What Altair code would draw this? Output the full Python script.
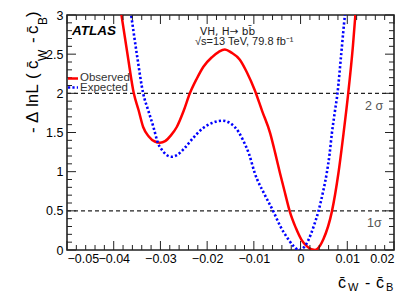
import altair as alt
import pandas as pd

# Observed curve
obs_x = [-0.0386, -0.0370, -0.0357, -0.0347, -0.0337, -0.0325, -0.0312, -0.0301, -0.0290,
         -0.0278, -0.0265, -0.0250, -0.0237, -0.0222, -0.0208, -0.0190, -0.0175, -0.0162,
         -0.0148, -0.0130, -0.0115, -0.0098, -0.0082, -0.0065, -0.0054, -0.0044, -0.0033,
         -0.0023, -0.0010, 0.0002, 0.0015, 0.0031, 0.0049, 0.0067, 0.0081, 0.0092, 0.0102,
         0.0112, 0.0118]
obs_y = [3.10, 2.48, 2.00, 1.79, 1.57, 1.45, 1.385, 1.37, 1.39,
         1.46, 1.57, 1.78, 2.00, 2.19, 2.34, 2.46, 2.53, 2.56,
         2.52, 2.43, 2.27, 2.04, 1.77, 1.49, 1.23, 0.98, 0.72,
         0.49, 0.28, 0.13, 0.04, 0.00, 0.14, 0.49, 0.98, 1.49, 2.00,
         2.60, 3.05]

# Expected curve
exp_x = [-0.0365, -0.0350, -0.0337, -0.0326, -0.0315, -0.0305, -0.0297, -0.0286, -0.0276,
         -0.0265, -0.0250, -0.0230, -0.0210, -0.0190, -0.0167, -0.0151, -0.0133, -0.0123,
         -0.0110, -0.0098, -0.0078, -0.0058, -0.0044, -0.0030, -0.0015, -0.0004, 0.0008,
         0.0017, 0.0028, 0.0038, 0.0048, 0.0056, 0.0062, 0.0067, 0.0073, 0.0079, 0.0087,
         0.0095, 0.0097]
exp_y = [3.10, 2.48, 2.00, 1.78, 1.57, 1.36, 1.28, 1.21, 1.19,
         1.21, 1.29, 1.43, 1.55, 1.62, 1.65, 1.62, 1.51, 1.40,
         1.22, 0.98, 0.72, 0.49, 0.31, 0.17, 0.05, 0.00, 0.04,
         0.13, 0.30, 0.49, 0.74, 0.98, 1.22, 1.49, 1.75, 2.00, 2.50,
         3.00, 3.10]

x_major = [-0.05, -0.04, -0.03, -0.02, -0.01, 0.0, 0.01, 0.02]
x_minor = [-0.048, -0.046, -0.044, -0.042, -0.038, -0.036, -0.034, -0.032,
           -0.028, -0.026, -0.024, -0.022, -0.018, -0.016, -0.014, -0.012,
           -0.008, -0.006, -0.004, -0.002, 0.002, 0.004, 0.006, 0.008,
           0.012, 0.014, 0.016, 0.018]
y_major = [0.0, 0.5, 1.0, 1.5, 2.0, 2.5, 3.0]
y_minor = [0.1, 0.2, 0.3, 0.4, 0.6, 0.7, 0.8, 0.9, 1.1, 1.2, 1.3, 1.4,
           1.6, 1.7, 1.8, 1.9, 2.1, 2.2, 2.3, 2.4, 2.6, 2.7, 2.8, 2.9]
sigma_levels = [0.5, 2.0]

W, H = 327, 235
FONT = "Liberation Sans"
INK = "#222222"

xs = alt.Scale(domain=[-0.05, 0.02], nice=False, zero=False)
ys = alt.Scale(domain=[0, 3], nice=False, zero=False)

xaxis = alt.Axis(values=x_major, title=None, labelPadding=2, labelOverlap=False,
                 labelExpr="replace(format(datum.value, '.2~f'), '-', '\u2212')")
yaxis = alt.Axis(values=y_major, title=None, labelPadding=4, labelOverlap=False,
                 labelExpr="format(datum.value, '.1~f')")

XENC = alt.X("x:Q", scale=xs, axis=xaxis)
YENC = alt.Y("y:Q", scale=ys, axis=yaxis)

obs_df = pd.DataFrame({"x": obs_x, "y": obs_y})
exp_df = pd.DataFrame({"x": exp_x, "y": exp_y})

observed = alt.Chart(obs_df).mark_line(
    color="#ff0000", strokeWidth=2.5, clip=True, interpolate="monotone"
).encode(x=XENC, y=YENC)

expected = alt.Chart(exp_df).mark_line(
    color="#0000ff", strokeWidth=2.6, strokeDash=[2.2, 2.2], clip=True, interpolate="monotone"
).encode(x=XENC, y=YENC)

levels = alt.Chart(pd.DataFrame({"y": sigma_levels})).mark_rule(
    color=INK, strokeWidth=1.3, strokeDash=[4, 3]
).encode(y=YENC, x=alt.value(0), x2=alt.value(W))


def xticks(vals, length):
    df = pd.DataFrame({"x": vals})
    bot = alt.Chart(df).mark_rule(color=INK, strokeWidth=1).encode(
        x=XENC, y=alt.value(H), y2=alt.value(H - length))
    top = alt.Chart(df).mark_rule(color=INK, strokeWidth=1).encode(
        x=XENC, y=alt.value(0), y2=alt.value(length))
    return [bot, top]


def yticks(vals, length):
    df = pd.DataFrame({"y": vals})
    left = alt.Chart(df).mark_rule(color=INK, strokeWidth=1).encode(
        y=YENC, x=alt.value(0), x2=alt.value(length))
    right = alt.Chart(df).mark_rule(color=INK, strokeWidth=1).encode(
        y=YENC, x=alt.value(W), x2=alt.value(W - length))
    return [left, right]


def label(text, x, y, size, angle=0, color="#000000", font=FONT, **kw):
    return alt.Chart(pd.DataFrame({"t": [text]})).mark_text(
        align="left", baseline="alphabetic", fontSize=size, font=font,
        angle=angle, color=color, **kw
    ).encode(x=alt.value(x), y=alt.value(y), text="t:N")


legend_lines = [
    alt.Chart(pd.DataFrame({"k": ["Observed"]})).mark_rule(color="#ff0000", strokeWidth=2.5)
    .encode(x=alt.value(1), x2=alt.value(11), y=alt.value(63.5)),
    alt.Chart(pd.DataFrame({"k": ["Expected"]})).mark_rule(color="#0000ff", strokeWidth=2.6, strokeDash=[2.2, 2.2])
    .encode(x=alt.value(1), x2=alt.value(11), y=alt.value(72.5)),
]

texts = [
    label("ATLAS", 5, 20, 13.5, fontWeight="bold", fontStyle="italic"),
    label("VH, H\u2192 bb\u0304", 133, 20, 10.5, color=INK, font="DejaVu Sans"),
    label("\u221as=13 TeV, 79.8 fb\u207b\u00b9", 128, 30, 11, color=INK),
    label("Observed", 13, 66, 11.5, color="#333333"),
    label("Expected", 13, 75.5, 11.5, color="#333333"),
    label("2 \u03c3", 298, 95, 12.5, color="#555555"),
    label("1\u03c3", 300, 212, 12.5, color="#555555"),
    # x title
    label("c\u0304", 271, 273, 16),
    label("W", 281, 276, 11),
    label("-", 298, 273, 16),
    label("c\u0304", 309, 273, 16),
    label("B", 319, 276, 11),
    # y title (rotated)
    label("-", -29, 118, 17, angle=270),
    label("\u0394", -29, 108, 17, angle=270),
    label("lnL", -29, 92, 17, angle=270),
    label("(", -29, 64, 17, angle=270),
    label("c\u0304", -29, 54, 17, angle=270),
    label("W", -20, 46, 12, angle=270),
    label("-", -29, 28, 17, angle=270),
    label("c\u0304", -29, 19, 17, angle=270),
    label("B", -20, 10, 12, angle=270),
    label(")", -29, 2, 17, angle=270),
]

layers = [levels, observed, expected] + xticks(x_major, 9) + xticks(x_minor, 5) \
    + yticks(y_major, 9) + yticks(y_minor, 5) + legend_lines + texts

chart = alt.layer(*layers).properties(
    width=W, height=H,
    autosize=alt.AutoSizeParams(type="none"),
    padding={"left": 59, "top": 7, "right": 13, "bottom": 44},
).configure_view(
    stroke=INK, strokeWidth=1.6
).configure_axis(
    grid=False, ticks=False, domain=False,
    labelFont=FONT, labelFontSize=12.5, labelColor="#000000"
)

chart.save("out.html", embed_options={"renderer": "svg", "actions": False})
